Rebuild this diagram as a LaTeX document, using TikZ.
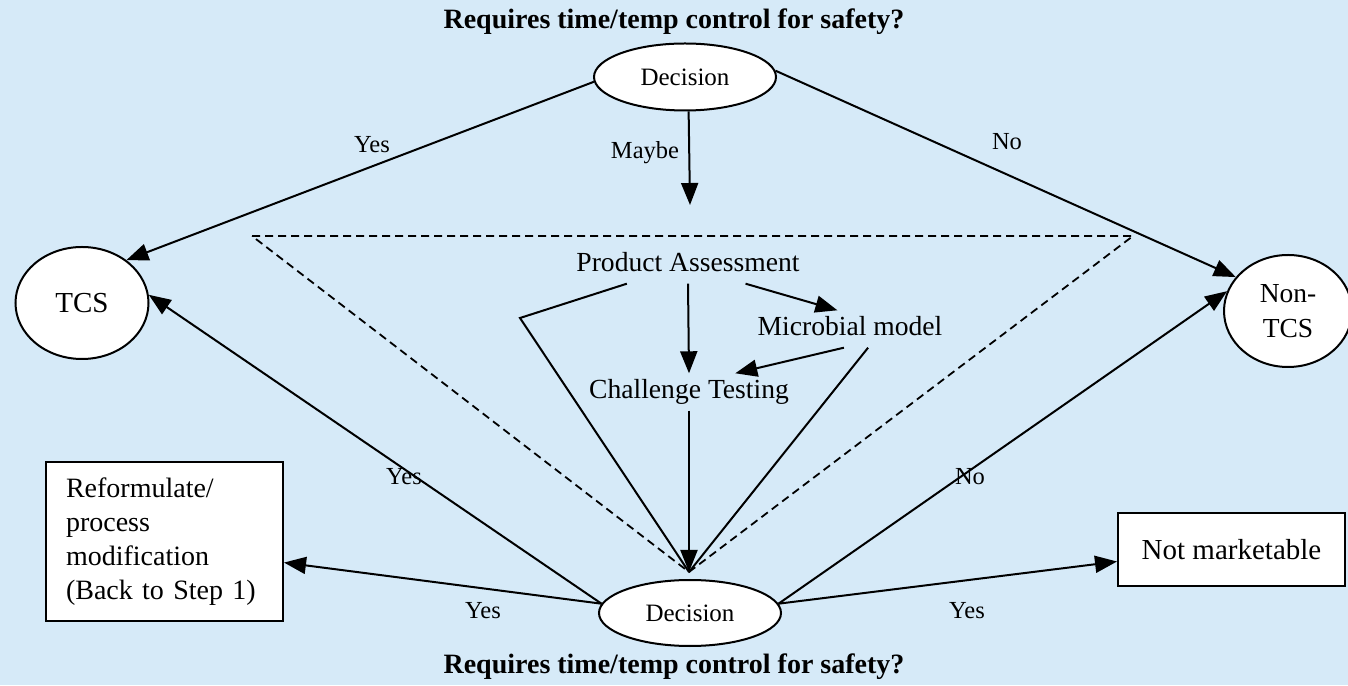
\documentclass[tikz,border=0pt]{standalone}
\usepackage{fontspec}
\setmainfont{Liberation Serif}
\usetikzlibrary{arrows.meta,shapes.geometric,calc}
\definecolor{bgblue}{RGB}{214,234,248}
\newcommand\myfs{\fontsize{27.6}{34}\selectfont}
\newcommand\mydecfs{\fontsize{25}{30}\selectfont}
\newcommand\mylblfs{\fontsize{24.5}{30}\selectfont}
\newcommand\mytitlefs{\fontsize{28}{34}\selectfont\bfseries}
\tikzset{
  conn/.style={line width=2pt},
  arr/.style={conn,-{Triangle[length=22pt,width=17pt]}},
  dashline/.style={line width=1.8pt,dash pattern=on 8pt off 5pt},
  dec/.style={ellipse,draw,line width=2pt,fill=white,inner sep=0pt,font=\mydecfs},
  box/.style={rectangle,draw,line width=2pt,fill=white,inner sep=0pt,font=\myfs},
  lbl/.style={font=\myfs,text height=19pt,text depth=6pt,inner xsep=2pt,inner ysep=6pt},
  edgelbl/.style={font=\mylblfs,inner sep=0pt},
  titlelbl/.style={font=\mytitlefs,inner sep=0pt}
}
\begin{document}
\begin{tikzpicture}[x=1pt,y=1pt]
\fill[bgblue] (0,0) rectangle (1348,685);
\useasboundingbox (0,0) rectangle (1348,685);

% titles
\node[titlelbl] (t1) at (674,663) {Requires time/temp control for safety?};
\node[titlelbl] (t2) at (674,18) {Requires time/temp control for safety?};

% main nodes
\node[dec,minimum width=182pt,minimum height=67pt] (dtop) at (685,608) {Decision};
\node[dec,minimum width=182pt,minimum height=66pt] (dbot) at (690,72) {Decision};
\node[dec,minimum width=133pt,minimum height=112pt,font=\fontsize{29}{34}\selectfont] (tcs) at (82,382) {TCS};
\node[dec,minimum width=128pt,minimum height=112pt,align=center,font=\fontsize{27.5}{35}\selectfont] (ntcs) at (1288,374) {Non-\\TCS};
\node[box,minimum width=237pt,minimum height=159pt,text width=197pt,align=left,inner xsep=20pt,font=\fontsize{28}{34}\selectfont] (ref) at (164.5,143.5) {Reformulate/\\process\\modification\\(Back to Step 1)};
\node[box,minimum width=227pt,minimum height=73pt,font=\fontsize{29}{34}\selectfont] (nm) at (1231.5,135.5) {Not marketable};

% center texts
\node[lbl] (pa) at (688,420) {Product Assessment};
\node[lbl] (mm) at (850,356) {Microbial model};
\node[lbl] (ct) at (689,293) {Challenge Testing};

% helper coordinates
\coordinate (conv) at (689,113);
\coordinate (dTL) at (252,449);
\coordinate (dTR) at (1133,449);
\coordinate (bendL) at (520,367);
\coordinate (maybeEnd) at (690,480);

% dashed triangle
\draw[dashline] (dTL) -- (dTR) -- (conv) -- cycle;

% connectors from top decision
\draw[arr] (dtop.183) -- (tcs.44);
\draw[arr] (dtop.-84) -- (maybeEnd);
\draw[arr] (dtop.4) -- (ntcs.147);

% connectors from bottom decision
\draw[arr] (dbot.174) -- (tcs.7);
\draw[arr] (dbot.174) -- (ref.350);
\draw[arr] (dbot.6) -- (ntcs.162);
\draw[arr] (dbot.6) -- (nm.186);

% inner connectors
\draw[arr] (pa.south) -- (ct.north);
\draw[arr] (pa.-18) -- (mm.124);
\draw[arr] (mm.-108) -- (ct.22);
\draw[conn] (pa.197) -- (bendL) -- (conv);
\draw[conn] (mm.-46) -- (conv);
\draw[arr] (ct.south) -- (conv);

% edge labels
\node[edgelbl] (l1) at (372,540) {Yes};
\node[edgelbl] (l2) at (645,532) {Maybe};
\node[edgelbl] (l3) at (1007,543) {No};
\node[edgelbl] (l4) at (404,208) {Yes};
\node[edgelbl] (l5) at (970,208) {No};
\node[edgelbl] (l6) at (483,74) {Yes};
\node[edgelbl] (l7) at (967,74) {Yes};
\end{tikzpicture}
\end{document}
